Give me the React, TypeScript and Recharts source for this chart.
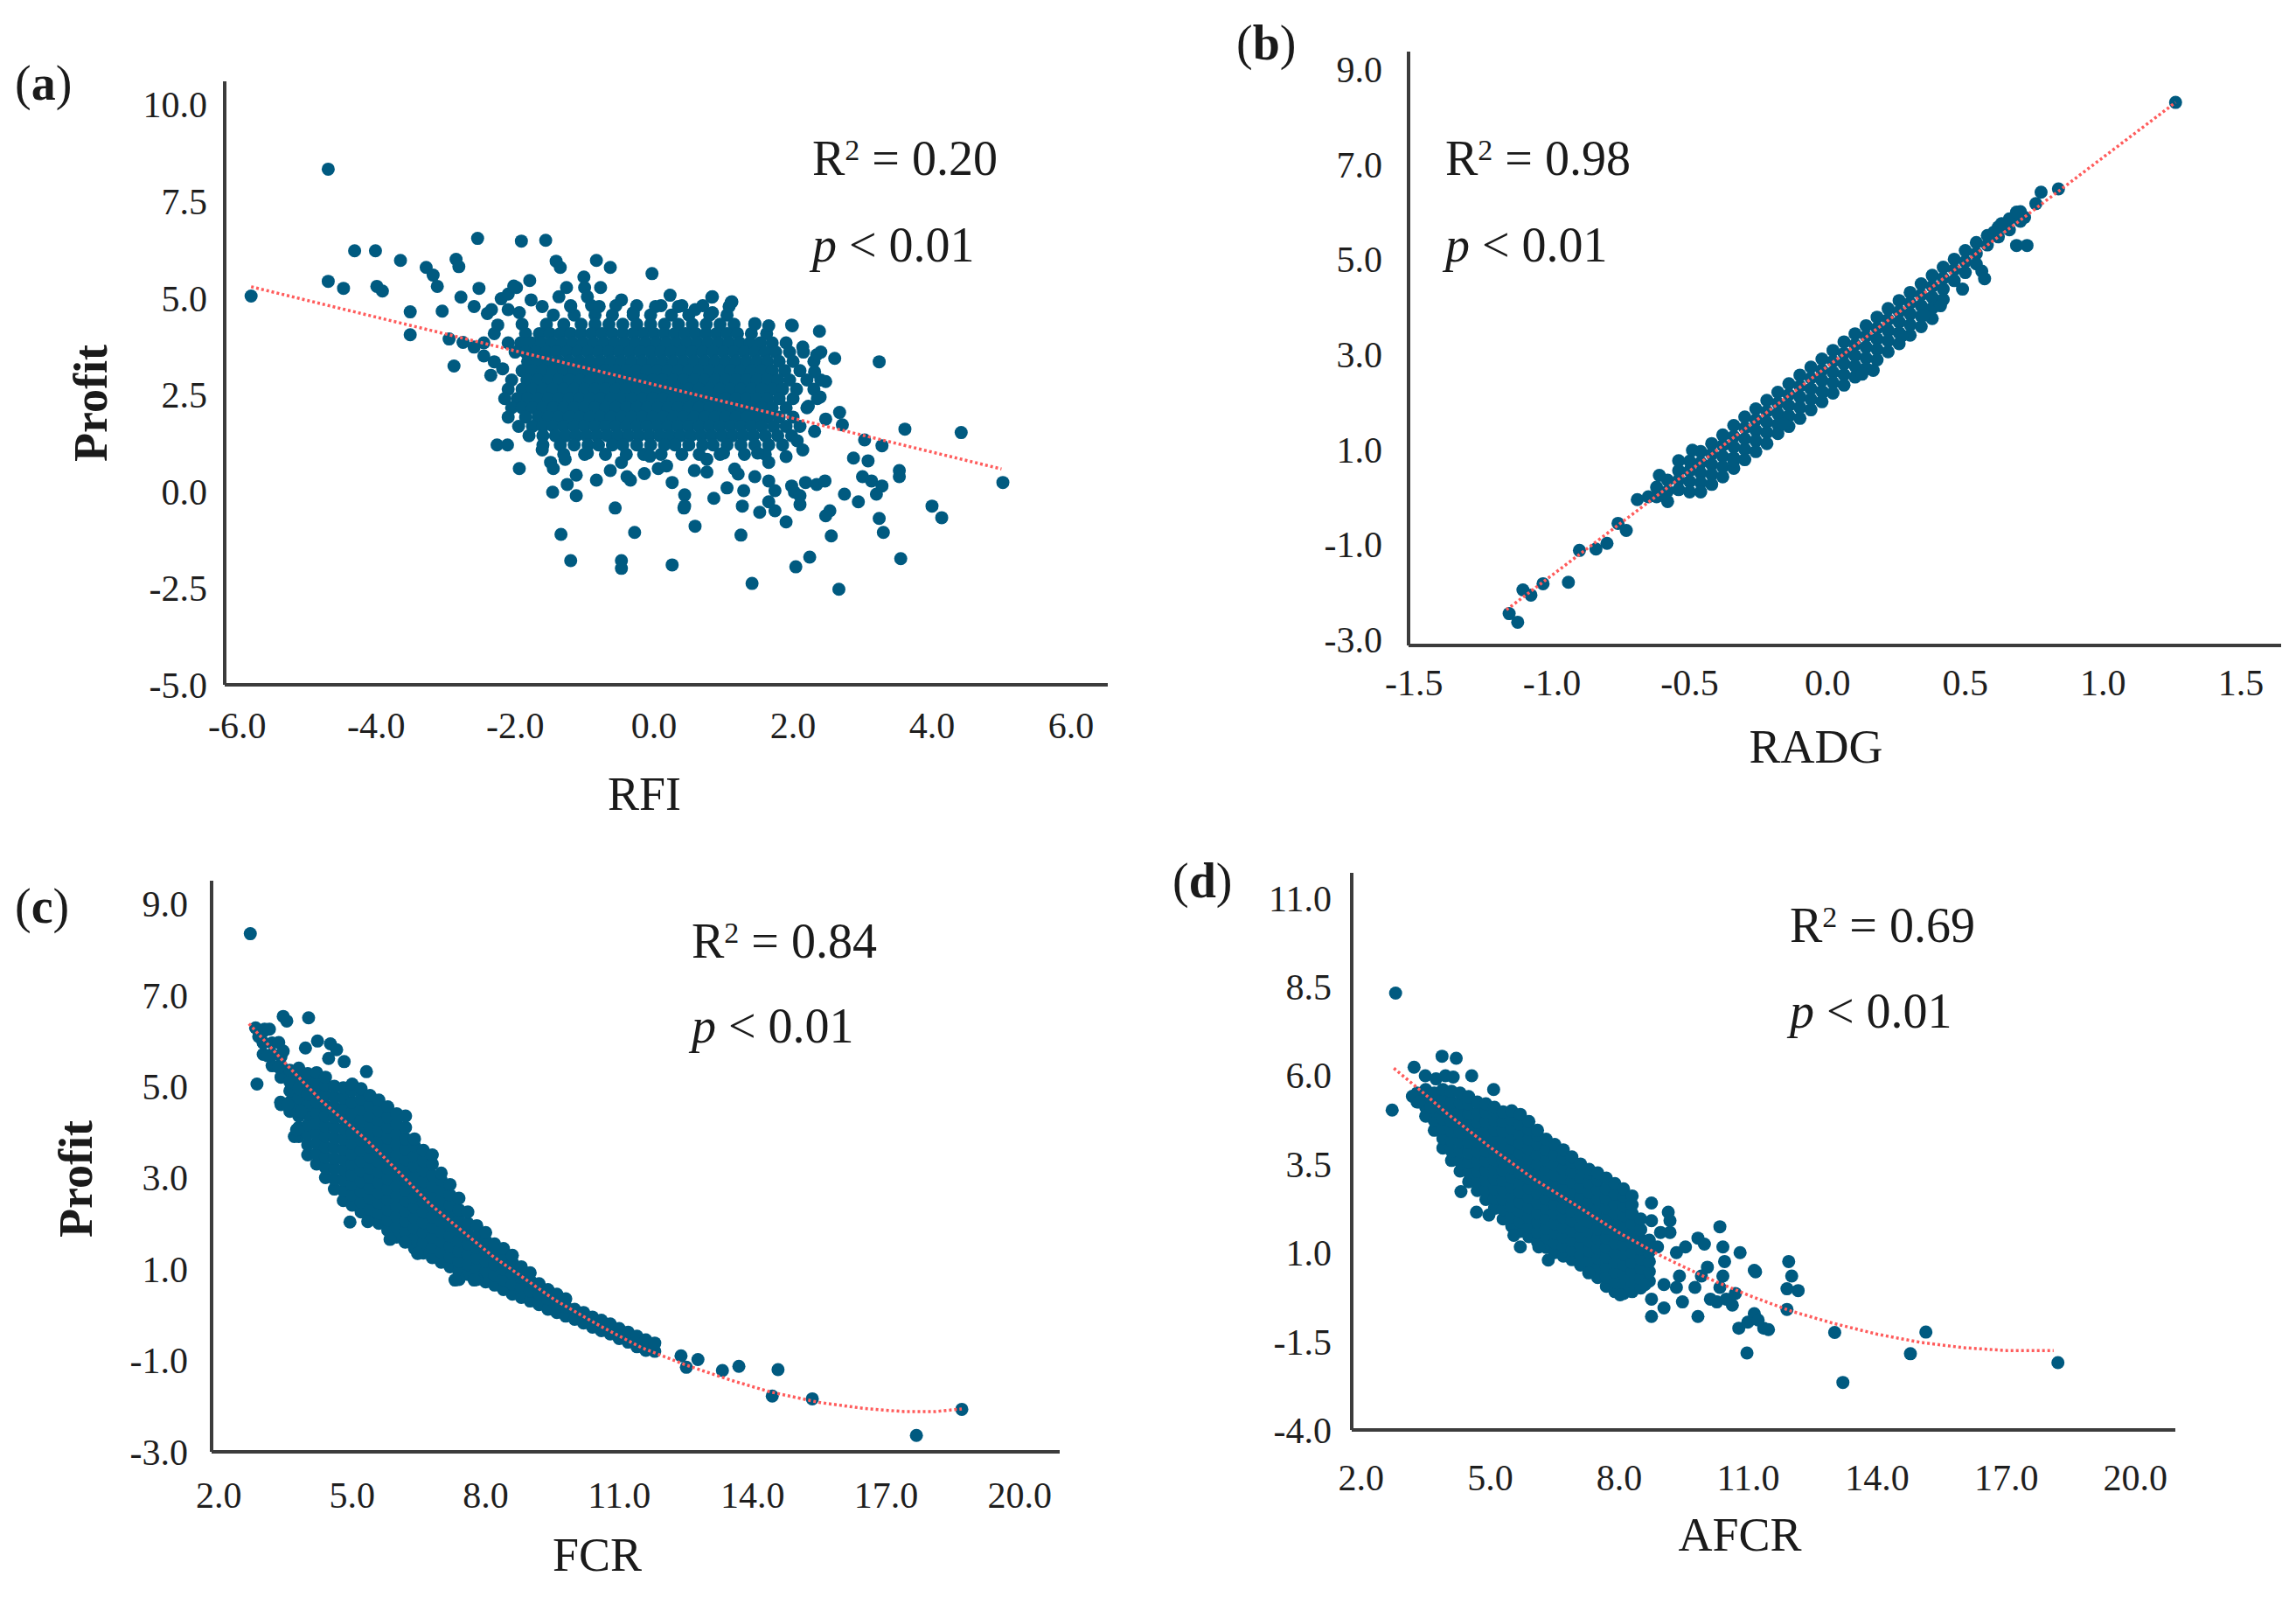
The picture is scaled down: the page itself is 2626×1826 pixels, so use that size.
import React from "react";
import { ScatterChart, Scatter, XAxis, YAxis } from "recharts";

type Pt = [number, number];
type Row = [number, number[]];

const DOT = "#005a80";
const TREND = "#ff5c5c";
const SERIF = "'Liberation Serif', 'Times New Roman', serif";

// (a) RFI vs Profit — dense core as rows of [profit, RFI values]
const rfiRows: Row[] = [
  [4.8, [-1.2, -0.9, -0.55, -0.25, 0.1, 0.4, 0.7]],
  [4.56, [-1.45, -1.15, -0.85, -0.6, -0.3, -0.05, 0.25, 0.5, 0.8, 1.05]],
  [4.32, [-1.9, -1.55, -1.3, -1.05, -0.85, -0.65, -0.45, -0.25, -0.05, 0.15, 0.35, 0.55, 0.75, 0.95, 1.15, 1.45]],
  [4.08, [-2.3, -1.85, -1.65, -1.5, -1.35, -1.2, -1.05, -0.9, -0.75, -0.6, -0.45, -0.3, -0.15, 0, 0.15, 0.3, 0.45, 0.6, 0.75, 0.9, 1.05, 1.2, 1.4, 1.62]],
  [3.84, [-2.45, -2.1, -1.92, -1.77, -1.62, -1.47, -1.32, -1.17, -1.02, -0.87, -0.72, -0.57, -0.42, -0.27, -0.12, 0.03, 0.18, 0.33, 0.48, 0.63, 0.78, 0.93, 1.08, 1.23, 1.38, 1.53, 1.7, 1.9]],
  [3.6, [-2.0, -1.85, -1.7, -1.55, -1.4, -1.25, -1.1, -0.95, -0.8, -0.65, -0.5, -0.35, -0.2, -0.05, 0.1, 0.25, 0.4, 0.55, 0.7, 0.85, 1.0, 1.15, 1.3, 1.45, 1.6, 1.75, 1.95, 2.15, 2.4]],
  [3.36, [-1.82, -1.67, -1.52, -1.37, -1.22, -1.07, -0.92, -0.77, -0.62, -0.47, -0.32, -0.17, -0.02, 0.13, 0.28, 0.43, 0.58, 0.73, 0.88, 1.03, 1.18, 1.33, 1.48, 1.63, 1.8, 2.0, 2.3]],
  [3.12, [-1.9, -1.75, -1.6, -1.45, -1.3, -1.15, -1.0, -0.85, -0.7, -0.55, -0.4, -0.25, -0.1, 0.05, 0.2, 0.35, 0.5, 0.65, 0.8, 0.95, 1.1, 1.25, 1.4, 1.55, 1.7, 1.88, 2.1]],
  [2.88, [-2.05, -1.83, -1.67, -1.52, -1.37, -1.22, -1.07, -0.92, -0.77, -0.62, -0.47, -0.32, -0.17, -0.02, 0.13, 0.28, 0.43, 0.58, 0.73, 0.88, 1.03, 1.18, 1.33, 1.48, 1.63, 1.78, 1.95, 2.2, 2.4]],
  [2.64, [-2.1, -1.9, -1.75, -1.6, -1.45, -1.3, -1.15, -1.0, -0.85, -0.7, -0.55, -0.4, -0.25, -0.1, 0.05, 0.2, 0.35, 0.5, 0.65, 0.8, 0.95, 1.1, 1.25, 1.4, 1.55, 1.7, 1.85, 2.05, 2.3]],
  [2.4, [-2.15, -1.97, -1.82, -1.67, -1.52, -1.37, -1.22, -1.07, -0.92, -0.77, -0.62, -0.47, -0.32, -0.17, -0.02, 0.13, 0.28, 0.43, 0.58, 0.73, 0.88, 1.03, 1.18, 1.33, 1.48, 1.63, 1.8, 2.0, 2.35]],
  [2.16, [-2.05, -1.9, -1.75, -1.6, -1.45, -1.3, -1.15, -1.0, -0.85, -0.7, -0.55, -0.4, -0.25, -0.1, 0.05, 0.2, 0.35, 0.5, 0.65, 0.8, 0.95, 1.1, 1.25, 1.4, 1.55, 1.7, 1.9, 2.2]],
  [1.92, [-2.1, -1.85, -1.67, -1.52, -1.37, -1.22, -1.07, -0.92, -0.77, -0.62, -0.47, -0.32, -0.17, -0.02, 0.13, 0.28, 0.43, 0.58, 0.73, 0.88, 1.03, 1.18, 1.33, 1.48, 1.63, 1.8, 2.0]],
  [1.68, [-1.95, -1.75, -1.6, -1.45, -1.3, -1.15, -1.0, -0.85, -0.7, -0.55, -0.4, -0.25, -0.1, 0.05, 0.2, 0.35, 0.5, 0.65, 0.8, 0.95, 1.1, 1.25, 1.4, 1.55, 1.72, 1.9, 2.1]],
  [1.44, [-1.8, -1.6, -1.42, -1.27, -1.12, -0.97, -0.82, -0.67, -0.52, -0.37, -0.22, -0.07, 0.08, 0.23, 0.38, 0.53, 0.68, 0.83, 0.98, 1.13, 1.28, 1.43, 1.6, 1.78, 1.98]],
  [1.2, [-1.6, -1.35, -1.15, -0.95, -0.8, -0.6, -0.45, -0.25, -0.05, 0.15, 0.3, 0.5, 0.7, 0.85, 1.05, 1.25, 1.45, 1.65, 1.85]],
  [0.96, [-1.3, -1.0, -0.7, -0.4, -0.15, 0.1, 0.4, 0.65, 0.95, 1.3, 1.6]],
];

const rfiScatter: Pt[] = [
  [-5.8, 5.05], [-4.69, 8.33], [-2.54, 6.54], [-1.91, 6.47], [-1.56, 6.49], [-4.31, 6.22], [-4.01, 6.22],
  [-3.65, 5.97], [-4.69, 5.43], [-4.47, 5.25], [-3.99, 5.3], [-3.91, 5.18], [-3.51, 4.64], [-3.51, 4.05],
  [-3.28, 5.79], [-3.18, 5.59], [-3.12, 5.3], [-2.85, 6.0], [-2.81, 5.81], [-3.05, 4.66], [-2.88, 3.24],
  [-2.95, 3.94], [-2.59, 3.73], [-2.35, 3.0], [-2.18, 3.17], [-2.78, 5.02], [-2.52, 5.25], [-2.2, 4.98],
  [-1.98, 5.27], [-1.79, 5.45], [-1.41, 5.95], [-1.35, 5.79], [-0.83, 5.97], [-0.63, 5.79], [-0.03, 5.63],
  [-1.01, 5.54], [-1.26, 5.27], [-1.0, 5.27], [-0.77, 5.27], [0.23, 5.07], [0.83, 5.02], [1.11, 4.89],
  [1.45, 4.34], [1.65, 4.28], [1.99, 4.28], [2.38, 4.14], [3.24, 3.35], [2.6, 3.44], [2.34, 3.53],
  [4.42, 1.52], [5.02, 0.23], [3.61, 1.61], [3.28, 1.18], [3.03, 1.33], [2.67, 2.04], [2.71, 1.72],
  [4.0, -0.38], [4.14, -0.68], [2.87, 0.86], [3.08, 0.79], [3.0, 0.38], [3.13, 0.27], [3.28, 0.14],
  [3.53, 0.54], [3.53, 0.38], [2.74, -0.07], [2.94, -0.27], [3.2, -0.07], [3.24, -0.7], [3.3, -1.06],
  [3.55, -1.74], [2.53, -0.5], [2.47, -0.63], [2.55, -1.15], [2.24, -1.7], [2.04, -1.95], [2.66, -2.53],
  [1.41, -2.38], [0.26, -1.9], [-0.47, -1.79], [-0.47, -1.99], [-1.2, -1.79], [-1.34, -1.11], [-0.28, -1.06],
  [0.59, -0.9], [1.25, -1.13], [-0.56, -0.43], [0.43, -0.43], [1.27, -0.38], [1.52, -0.54], [1.74, -0.5],
  [1.9, -0.79], [2.1, -0.34], [-1.46, -0.02], [-1.12, -0.11], [-0.83, 0.29], [-1.25, 0.18], [-1.94, 0.59],
  [-2.26, 1.2], [-2.11, 1.2], [-1.49, 0.75], [-1.45, 0.59], [-0.39, 0.38], [-0.34, 0.29], [0.06, 0.59],
  [0.26, 0.23], [0.44, -0.09], [0.44, -0.38], [0.58, 0.54], [0.76, 0.5], [0.86, -0.18], [1.05, 0.09],
  [1.21, 0.45], [1.29, 0.02], [1.45, 0.38], [1.65, 0.27], [1.74, 0.02], [1.98, 0.14], [2.02, -0.02],
  [2.18, 0.23], [2.34, 0.18], [2.46, 0.27], [1.65, -0.27], [2.1, -0.11],
  [-2.59, 4.78], [-2.34, 4.7], [-2.1, 5.1], [-2.02, 5.31], [-1.77, 4.95], [-1.61, 4.78], [-1.37, 5.03],
  [-1.2, 4.78], [-0.96, 5.03], [-0.79, 4.78], [-0.47, 4.95], [-0.3, 4.62], [0.02, 4.78], [0.35, 4.78],
  [0.59, 4.7], [0.84, 4.62], [1.08, 4.78], [0.84, 5.03], [1.12, 4.9], [-2.1, 4.7], [-1.94, 4.62],
  [-2.75, 3.85], [-2.45, 3.5], [-2.3, 3.35], [-2.25, 4.3], [-2.4, 4.6],
  [1.98, 4.3], [2.14, 3.73], [2.31, 3.09], [2.47, 2.84], [2.39, 2.44], [2.22, 2.2], [2.47, 1.87],
  [2.31, 1.55], [2.06, 1.31], [2.14, 1.07], [1.9, 0.9],
  [-1.61, 1.07], [-1.28, 0.83], [-0.96, 0.99], [-0.47, 0.75], [-0.06, 0.91], [0.18, 0.66], [0.76, 0.83],
  [1.0, 0.99], [1.49, 0.99], [1.65, 0.75], [1.16, 0.58], [-0.14, 0.46], [-0.63, 0.54], [-1.12, 0.42],
];
const rfiTrend: Pt[] = [[-5.8, 5.29], [5.0, 0.58]];

// (b) RADG vs Profit — band as columns of [RADG, profit values]
const radgCols: Row[] = [
  [-0.62, [0.2, 0.0]],
  [-0.58, [0.35, 0.12, -0.1]],
  [-0.54, [0.55, 0.35, 0.15]],
  [-0.5, [0.75, 0.55, 0.32, 0.1]],
  [-0.46, [0.95, 0.72, 0.5, 0.3, 0.1]],
  [-0.42, [1.12, 0.9, 0.68, 0.47, 0.26]],
  [-0.38, [1.3, 1.08, 0.85, 0.63, 0.42]],
  [-0.34, [1.5, 1.27, 1.05, 0.82, 0.6]],
  [-0.3, [1.68, 1.45, 1.22, 1.0, 0.78]],
  [-0.26, [1.85, 1.62, 1.4, 1.18, 0.95]],
  [-0.22, [2.03, 1.8, 1.57, 1.35, 1.12]],
  [-0.18, [2.2, 1.97, 1.75, 1.52, 1.33]],
  [-0.14, [2.38, 2.15, 1.92, 1.7, 1.48]],
  [-0.1, [2.56, 2.33, 2.1, 1.88, 1.65]],
  [-0.06, [2.73, 2.5, 2.27, 2.05, 1.83]],
  [-0.02, [2.9, 2.67, 2.45, 2.22, 2.0]],
  [0.02, [3.08, 2.85, 2.62, 2.4, 2.18]],
  [0.06, [3.26, 3.02, 2.8, 2.57, 2.35]],
  [0.1, [3.43, 3.2, 2.97, 2.75, 2.52]],
  [0.14, [3.6, 3.38, 3.15, 2.92, 2.7]],
  [0.18, [3.78, 3.55, 3.32, 3.1, 2.88]],
  [0.22, [3.96, 3.73, 3.5, 3.28, 3.05]],
  [0.26, [4.13, 3.9, 3.68, 3.45, 3.22]],
  [0.3, [4.3, 4.08, 3.85, 3.62, 3.4]],
  [0.34, [4.48, 4.25, 4.02, 3.8, 3.58]],
  [0.38, [4.66, 4.43, 4.2, 3.97, 3.75]],
  [0.42, [4.83, 4.6, 4.37, 4.15]],
  [0.46, [5.0, 4.78, 4.55]],
  [0.5, [5.18, 4.95, 4.72]],
  [0.54, [5.35, 5.12, 4.9]],
  [0.58, [5.5, 5.3]],
  [0.62, [5.68, 5.47]],
  [0.66, [5.85, 5.62]],
  [0.7, [6.0, 5.8]],
];
const radgScatter: Pt[] = [
  [1.263, 8.3], [-1.155, -2.46], [-1.124, -2.64], [-1.105, -1.96], [-1.076, -2.07], [-1.032, -1.83],
  [-0.94, -1.8], [-0.9, -1.13], [-0.84, -1.1], [-0.8, -0.98], [-0.76, -0.56], [-0.73, -0.71],
  [-0.69, -0.06], [-0.65, 0.0], [-0.61, 0.45], [-0.59, 0.06], [-0.54, 0.76], [-0.49, 0.98],
  [0.775, 6.41], [0.838, 6.48], [0.756, 6.17], [0.686, 5.99], [0.715, 5.88], [0.632, 5.75], [0.604, 5.57],
  [0.686, 5.29], [0.724, 5.29], [0.56, 4.75], [0.57, 4.59], [0.49, 4.37], [0.35, 3.82], [0.41, 4.02],
  [0.27, 3.39], [0.125, 2.58], [0.166, 2.66], [-0.017, 2.2], [-0.16, 1.53], [-0.34, 0.76],
];
const radgTrend: Pt[] = [[-1.165, -2.38], [1.263, 8.3]];

// (c) FCR vs Profit — columns of [FCR, profit values]
const fcrCols: Row[] = [
  [3.0, [5.7, 5.95, 6.2]],
  [3.2, [5.45, 5.7, 5.95]],
  [3.4, [4.6, 5.2, 5.45, 5.65]],
  [3.6, [4.45, 4.65, 4.9, 5.1, 5.35]],
  [3.8, [3.9, 4.1, 4.35, 4.55, 4.75, 4.95, 5.2, 5.4]],
  [4.0, [3.5, 3.72, 3.95, 4.15, 4.38, 4.6, 4.82, 5.05, 5.28]],
  [4.2, [3.3, 3.52, 3.75, 3.97, 4.2, 4.42, 4.65, 4.87, 5.1, 5.3]],
  [4.4, [3.0, 3.22, 3.45, 3.67, 3.9, 4.12, 4.35, 4.57, 4.8, 5.02, 5.2]],
  [4.6, [2.75, 2.97, 3.2, 3.42, 3.65, 3.87, 4.1, 4.32, 4.55, 4.77, 5.0]],
  [4.8, [2.5, 2.72, 2.95, 3.17, 3.4, 3.62, 3.85, 4.07, 4.3, 4.52, 4.75, 4.97]],
  [5.0, [2.4, 2.62, 2.85, 3.07, 3.3, 3.52, 3.75, 3.97, 4.2, 4.42, 4.65, 4.9, 5.05]],
  [5.2, [2.25, 2.47, 2.7, 2.92, 3.15, 3.37, 3.6, 3.82, 4.05, 4.27, 4.5, 4.72, 4.95]],
  [5.4, [2.1, 2.32, 2.55, 2.77, 3.0, 3.22, 3.45, 3.67, 3.9, 4.12, 4.35, 4.57, 4.8]],
  [5.6, [2.0, 2.22, 2.45, 2.67, 2.9, 3.12, 3.35, 3.57, 3.8, 4.02, 4.25, 4.47, 4.7]],
  [5.8, [1.85, 2.07, 2.3, 2.52, 2.75, 2.97, 3.2, 3.42, 3.65, 3.87, 4.1, 4.32, 4.55]],
  [6.0, [1.7, 1.92, 2.15, 2.37, 2.6, 2.82, 3.05, 3.27, 3.5, 3.72, 3.95, 4.17, 4.4]],
  [6.2, [1.6, 1.82, 2.05, 2.27, 2.5, 2.72, 2.95, 3.17, 3.4, 3.62, 3.85, 4.1, 4.35]],
  [6.4, [1.45, 1.67, 1.9, 2.12, 2.35, 2.57, 2.8, 3.02, 3.25, 3.47, 3.7, 3.85]],
  [6.6, [1.35, 1.57, 1.8, 2.02, 2.25, 2.47, 2.7, 2.92, 3.15, 3.37, 3.6]],
  [6.8, [1.25, 1.47, 1.7, 1.92, 2.15, 2.37, 2.6, 2.82, 3.05, 3.3, 3.5]],
  [7.0, [1.15, 1.37, 1.6, 1.82, 2.05, 2.27, 2.5, 2.72, 2.95, 3.1]],
  [7.2, [1.05, 1.27, 1.5, 1.72, 1.95, 2.17, 2.4, 2.62, 2.85]],
  [7.4, [0.95, 1.17, 1.4, 1.62, 1.85, 2.07, 2.3, 2.55]],
  [7.6, [0.88, 1.1, 1.32, 1.55, 1.77, 2.0, 2.25]],
  [7.8, [0.8, 1.02, 1.25, 1.47, 1.7, 1.95]],
  [8.0, [0.72, 0.95, 1.17, 1.4, 1.62, 1.8]],
  [8.2, [0.65, 0.87, 1.1, 1.32, 1.55]],
  [8.4, [0.55, 0.77, 1.0, 1.22, 1.45]],
  [8.6, [0.45, 0.67, 0.9, 1.15, 1.3]],
  [8.8, [0.38, 0.6, 0.82, 1.05]],
  [9.0, [0.3, 0.52, 0.75, 0.92]],
  [9.2, [0.22, 0.45, 0.68]],
  [9.4, [0.12, 0.35, 0.55]],
  [9.6, [0.05, 0.25, 0.45]],
  [9.8, [-0.03, 0.18, 0.35]],
  [10.0, [-0.1, 0.12]],
  [10.2, [-0.18, 0.05]],
  [10.4, [-0.27, -0.05]],
  [10.6, [-0.35, -0.12]],
  [10.8, [-0.42, -0.2]],
  [11.0, [-0.52, -0.3]],
  [11.2, [-0.6, -0.38]],
  [11.4, [-0.7, -0.47]],
  [11.6, [-0.78, -0.55]],
  [11.8, [-0.8, -0.62]],
];
const fcrScatter: Pt[] = [
  [2.71, 8.34], [2.86, 5.05], [17.68, -2.64], [18.7, -2.07], [15.34, -1.84], [14.44, -1.78], [14.57, -1.2],
  [13.32, -1.22], [13.69, -1.13], [12.39, -0.9], [12.51, -1.15], [12.77, -0.98], [3.45, 6.53], [3.53, 6.43],
  [4.02, 6.5], [2.83, 6.28], [3.03, 6.25], [3.14, 6.25], [2.9, 6.09], [3.0, 5.96], [3.1, 5.67], [3.35, 5.96],
  [3.45, 5.77], [3.35, 5.42], [3.95, 5.84], [4.22, 5.99], [4.51, 5.93], [4.65, 5.8], [4.47, 5.61], [4.82, 5.54],
  [5.32, 5.32], [3.39, 4.65], [3.74, 4.46], [3.55, 4.6], [3.85, 4.45], [3.7, 3.9], [3.75, 4.05],
  [4.95, 2.03], [5.35, 2.04], [5.85, 1.65], [7.4, 0.77], [7.8, 0.77], [7.31, 0.76], [7.74, 0.76],
  [6.47, 1.34], [6.19, 1.59],
];
const fcrTrend: Pt[] = [
  [2.68, 6.37], [3.5, 5.5], [4.3, 4.69], [5.35, 3.8], [6.05, 3.12], [6.75, 2.42], [7.45, 1.85], [8.16, 1.28],
  [8.86, 0.8], [9.56, 0.32], [10.6, -0.26], [11.5, -0.72], [12.5, -1.1], [13.5, -1.43], [14.4, -1.69],
  [15.5, -1.92], [16.5, -2.05], [17.4, -2.12], [18.1, -2.12], [18.7, -2.06],
];

// (d) AFCR vs Profit — columns of [AFCR, profit values]
const afcrCols: Row[] = [
  [3.3, [5.25, 5.5]],
  [3.5, [4.85, 5.1, 5.35, 5.6]],
  [3.7, [4.45, 4.72, 5.0, 5.25, 5.5]],
  [3.9, [3.95, 4.22, 4.5, 4.77, 5.05, 5.3, 5.6]],
  [4.1, [3.6, 3.87, 4.15, 4.42, 4.7, 4.97, 5.25, 5.55]],
  [4.3, [3.3, 3.57, 3.85, 4.12, 4.4, 4.67, 4.95, 5.22, 5.5]],
  [4.5, [3.0, 3.27, 3.55, 3.82, 4.1, 4.37, 4.65, 4.92, 5.2, 5.4]],
  [4.7, [2.75, 3.02, 3.3, 3.57, 3.85, 4.12, 4.4, 4.67, 4.95, 5.25]],
  [4.9, [2.5, 2.77, 3.05, 3.32, 3.6, 3.87, 4.15, 4.42, 4.7, 4.97, 5.2]],
  [5.1, [2.25, 2.52, 2.8, 3.07, 3.35, 3.62, 3.9, 4.17, 4.45, 4.72, 5.0, 5.1]],
  [5.3, [1.95, 2.22, 2.5, 2.77, 3.05, 3.32, 3.6, 3.87, 4.15, 4.42, 4.7, 4.97]],
  [5.5, [1.75, 2.02, 2.3, 2.57, 2.85, 3.12, 3.4, 3.67, 3.95, 4.22, 4.5, 4.77, 5.0]],
  [5.7, [1.6, 1.87, 2.15, 2.42, 2.7, 2.97, 3.25, 3.52, 3.8, 4.07, 4.35, 4.62, 4.9]],
  [5.9, [1.45, 1.72, 2.0, 2.27, 2.55, 2.82, 3.1, 3.37, 3.65, 3.92, 4.2, 4.47, 4.7]],
  [6.1, [1.3, 1.57, 1.85, 2.12, 2.4, 2.67, 2.95, 3.22, 3.5, 3.77, 4.05, 4.3, 4.45]],
  [6.3, [1.15, 1.42, 1.7, 1.97, 2.25, 2.52, 2.8, 3.07, 3.35, 3.62, 3.9, 4.2]],
  [6.5, [1.0, 1.27, 1.55, 1.82, 2.1, 2.37, 2.65, 2.92, 3.2, 3.47, 3.75, 4.05]],
  [6.7, [0.9, 1.17, 1.45, 1.72, 2.0, 2.27, 2.55, 2.82, 3.1, 3.37, 3.65, 3.9]],
  [6.9, [0.8, 1.07, 1.35, 1.62, 1.9, 2.17, 2.45, 2.72, 3.0, 3.27, 3.55, 3.7]],
  [7.1, [0.65, 0.92, 1.2, 1.47, 1.75, 2.02, 2.3, 2.57, 2.85, 3.12, 3.4, 3.5]],
  [7.3, [0.5, 0.77, 1.05, 1.32, 1.6, 1.87, 2.15, 2.42, 2.7, 2.97, 3.25, 3.35]],
  [7.5, [0.3, 0.57, 0.85, 1.12, 1.4, 1.67, 1.95, 2.22, 2.5, 2.77, 3.05, 3.25]],
  [7.7, [0.05, 0.32, 0.6, 0.87, 1.15, 1.42, 1.7, 1.97, 2.25, 2.52, 2.8, 3.1]],
  [7.9, [-0.1, 0.17, 0.45, 0.72, 1.0, 1.27, 1.55, 1.82, 2.1, 2.37, 2.65, 2.95]],
  [8.1, [-0.15, 0.12, 0.4, 0.67, 0.95, 1.22, 1.5, 1.77, 2.05, 2.32, 2.6, 2.8]],
  [8.3, [-0.1, 0.17, 0.45, 0.72, 1.0, 1.27, 1.55, 1.82, 2.1, 2.35, 2.6]],
  [8.5, [0.0, 0.27, 0.55, 0.82, 1.1, 1.37, 1.65, 1.95]],
  [8.7, [0.2, 0.47, 0.75, 1.02, 1.35]],
];
const afcrScatter: Pt[] = [
  [2.8, 8.32], [2.72, 5.02], [3.88, 6.54], [4.21, 6.48], [3.23, 6.23], [3.49, 5.99], [3.74, 5.9], [3.96, 5.99],
  [4.14, 5.95], [4.57, 5.99], [5.08, 5.6], [3.19, 5.41], [3.34, 5.25], [3.63, 5.09],
  [8.75, 2.4], [9.14, 2.14], [9.18, 1.9], [9.18, 1.57], [8.75, 1.9], [8.96, 1.57], [8.89, 1.16], [9.33, 1.0],
  [9.54, 1.16], [9.83, 1.41], [9.98, 1.24], [10.34, 1.73], [10.41, 1.16], [10.45, 0.75], [10.81, 1.0],
  [11.14, 0.5], [10.41, 0.34], [10.34, 0.02], [10.05, 0.59], [9.91, 0.34], [9.76, 0.02], [9.4, 0.34],
  [9.04, 0.1], [9.33, 0.02], [8.75, -0.31], [9.04, -0.56], [8.75, -0.8], [9.47, -0.39], [9.83, -0.8],
  [10.12, -0.31], [10.27, -0.39], [10.49, -0.31], [10.63, -0.48], [10.7, -0.15], [10.78, -1.13],
  [10.99, -0.96], [11.14, -0.72], [11.36, -1.13], [11.94, 0.75], [12.01, 0.34], [11.9, -0.02],
  [12.16, -0.07], [11.9, -0.6], [13.01, -1.25], [13.2, -2.66], [14.77, -1.85], [15.13, -1.24], [18.2, -2.1],
  [10.97, -1.83], [11.17, 0.46], [11.47, -1.17], [11.23, -0.9],
  [4.32, 2.72], [4.68, 2.14], [4.97, 2.06], [5.55, 1.49], [5.7, 1.16], [6.13, 1.16], [6.35, 0.79],
  [7.29, 0.43], [8.02, -0.19], [8.6, 0.1],
];
const afcrTrend: Pt[] = [
  [2.76, 6.2], [3.5, 5.45], [4, 4.92], [5, 3.97], [6, 3.09], [7, 2.33], [8, 1.56], [9, 0.89], [10, 0.31],
  [11, -0.2], [12, -0.65], [13, -1.0], [14, -1.3], [15, -1.53], [16, -1.68], [17, -1.76], [18.1, -1.76],
];

const byY = (rows: Row[]) => rows.flatMap(([y, xs]) => xs.map((x) => ({ x, y })));
const byX = (cols: Row[]) => cols.flatMap(([x, ys]) => ys.map((y) => ({ x, y })));
const pairs = (pts: Pt[]) => pts.map(([x, y]) => ({ x, y }));

const renderDot = (p: any) => <circle cx={p.cx} cy={p.cy} r={7.5} fill={DOT} />;
const renderNothing = () => <g />;

type PanelProps = {
  box: { left: number; top: number; width: number; height: number };
  plot: { left: number; top: number; right: number; bottom: number };
  xDomain: [number, number];
  xTicks: number[];
  yDomain: [number, number];
  yTicks: number[];
  yGap: number;
  xGap: number;
  points: { x: number; y: number }[];
  trend: { x: number; y: number }[];
};

const tickStyle = { fontFamily: SERIF, fontSize: 42, fill: "#1e1e1e" };
const axisLine = { stroke: "#3c3c3c", strokeWidth: 4 };
const Y_W = 120;
const X_H = 90;

function Panel({ box, plot, xDomain, xTicks, yDomain, yTicks, yGap, xGap, points, trend }: PanelProps) {
  // plot.* are page coordinates of the axis lines; convert to chart margins
  const margin = {
    top: plot.top - box.top,
    left: plot.left - box.left - Y_W,
    right: box.left + box.width - plot.right,
    bottom: box.top + box.height - plot.bottom - X_H,
  };
  return (
    <div style={{ position: "absolute", left: box.left, top: box.top }}>
      <ScatterChart width={box.width} height={box.height} margin={margin}>
        <XAxis
          type="number" dataKey="x" domain={xDomain} ticks={xTicks} interval={0}
          allowDataOverflow height={X_H} tickLine={false} tickSize={0} tickMargin={xGap}
          axisLine={axisLine} tick={tickStyle} tickFormatter={(v: number) => v.toFixed(1)}
        />
        <YAxis
          type="number" dataKey="y" domain={yDomain} ticks={yTicks} interval={0}
          allowDataOverflow width={Y_W} tickLine={false} tickSize={0} tickMargin={yGap}
          axisLine={axisLine} tick={tickStyle} tickFormatter={(v: number) => v.toFixed(1)}
        />
        <Scatter data={points} fill={DOT} shape={renderDot} isAnimationActive={false} />
        <Scatter
          data={trend} shape={renderNothing} isAnimationActive={false} lineType="joint"
          line={{ stroke: TREND, strokeWidth: 3.5, strokeDasharray: "3 3" }}
        />
      </ScatterChart>
    </div>
  );
}

function Stat({ x, y1, y2, r2 }: { x: number; y1: number; y2: number; r2: string }) {
  return (
    <g fontSize={56} fill="#1a1a1a">
      <text x={x} y={y1}>
        R<tspan fontSize={34} dy={-17}>2</tspan>
        <tspan dy={17}>{" = " + r2}</tspan>
      </text>
      <text x={x} y={y2}>
        <tspan fontStyle="italic">p</tspan>
        <tspan>{" < 0.01"}</tspan>
      </text>
    </g>
  );
}

export default function App() {
  return (
    <div style={{ position: "absolute", left: 0, top: 0, width: 2626, height: 1826, background: "#fff" }}>
      <Panel
        box={{ left: 0, top: 0, width: 1320, height: 920 }}
        plot={{ left: 257, top: 93, right: 1267, bottom: 783 }}
        xDomain={[-6.18, 6.53]} xTicks={[-6, -4, -2, 0, 2, 4, 6]}
        yDomain={[-5, 10.6]} yTicks={[-5, -2.5, 0, 2.5, 5, 7.5, 10]}
        yGap={20} xGap={31}
        points={[...byY(rfiRows), ...pairs(rfiScatter)]} trend={pairs(rfiTrend)}
      />
      <Panel
        box={{ left: 1320, top: 0, width: 1306, height: 920 }}
        plot={{ left: 1611, top: 59, right: 2609, bottom: 738 }}
        xDomain={[-1.52, 1.646]} xTicks={[-1.5, -1, -0.5, 0, 0.5, 1, 1.5]}
        yDomain={[-3.13, 9.37]} yTicks={[-3, -1, 1, 3, 5, 7, 9]}
        yGap={30} xGap={27}
        points={[...byX(radgCols), ...pairs(radgScatter)]} trend={pairs(radgTrend)}
      />
      <Panel
        box={{ left: 0, top: 920, width: 1320, height: 906 }}
        plot={{ left: 242, top: 1007, right: 1212, bottom: 1660 }}
        xDomain={[1.84, 20.9]} xTicks={[2, 5, 8, 11, 14, 17, 20]}
        yDomain={[-3, 9.5]} yTicks={[-3, -1, 1, 3, 5, 7, 9]}
        yGap={27} xGap={34}
        points={[...byX(fcrCols), ...pairs(fcrScatter)]} trend={pairs(fcrTrend)}
      />
      <Panel
        box={{ left: 1320, top: 920, width: 1306, height: 906 }}
        plot={{ left: 1546, top: 998, right: 2488, bottom: 1635 }}
        xDomain={[1.78, 20.93]} xTicks={[2, 5, 8, 11, 14, 17, 20]}
        yDomain={[-4, 11.71]} yTicks={[-4, -1.5, 1, 3.5, 6, 8.5, 11]}
        yGap={23} xGap={39}
        points={[...byX(afcrCols), ...pairs(afcrScatter)]} trend={pairs(afcrTrend)}
      />
      <svg
        width={2626} height={1826}
        style={{ position: "absolute", left: 0, top: 0, pointerEvents: "none" }}
        fontFamily={SERIF} fill="#1a1a1a"
      >
        <text x={17} y={114} fontSize={56}>(<tspan fontWeight="bold">a</tspan>)</text>
        <text x={1414} y={68} fontSize={56}>(<tspan fontWeight="bold">b</tspan>)</text>
        <text x={17} y={1055} fontSize={56}>(<tspan fontWeight="bold">c</tspan>)</text>
        <text x={1341} y={1026} fontSize={56}>(<tspan fontWeight="bold">d</tspan>)</text>

        <Stat x={929} y1={200} y2={299} r2="0.20" />
        <Stat x={1653} y1={200} y2={299} r2="0.98" />
        <Stat x={791} y1={1095} y2={1192} r2="0.84" />
        <Stat x={2047} y1={1077} y2={1175} r2="0.69" />

        <text x={737} y={926} fontSize={54} textAnchor="middle">RFI</text>
        <text x={2077} y={872} fontSize={54} textAnchor="middle">RADG</text>
        <text x={683} y={1796} fontSize={54} textAnchor="middle">FCR</text>
        <text x={1990} y={1773} fontSize={54} textAnchor="middle">AFCR</text>

        <text x={104} y={461} fontSize={54} fontWeight="bold" textAnchor="middle"
          dominantBaseline="central" transform="rotate(-90 104 461)">Profit</text>
        <text x={87} y={1348} fontSize={54} fontWeight="bold" textAnchor="middle"
          dominantBaseline="central" transform="rotate(-90 87 1348)">Profit</text>
      </svg>
    </div>
  );
}
